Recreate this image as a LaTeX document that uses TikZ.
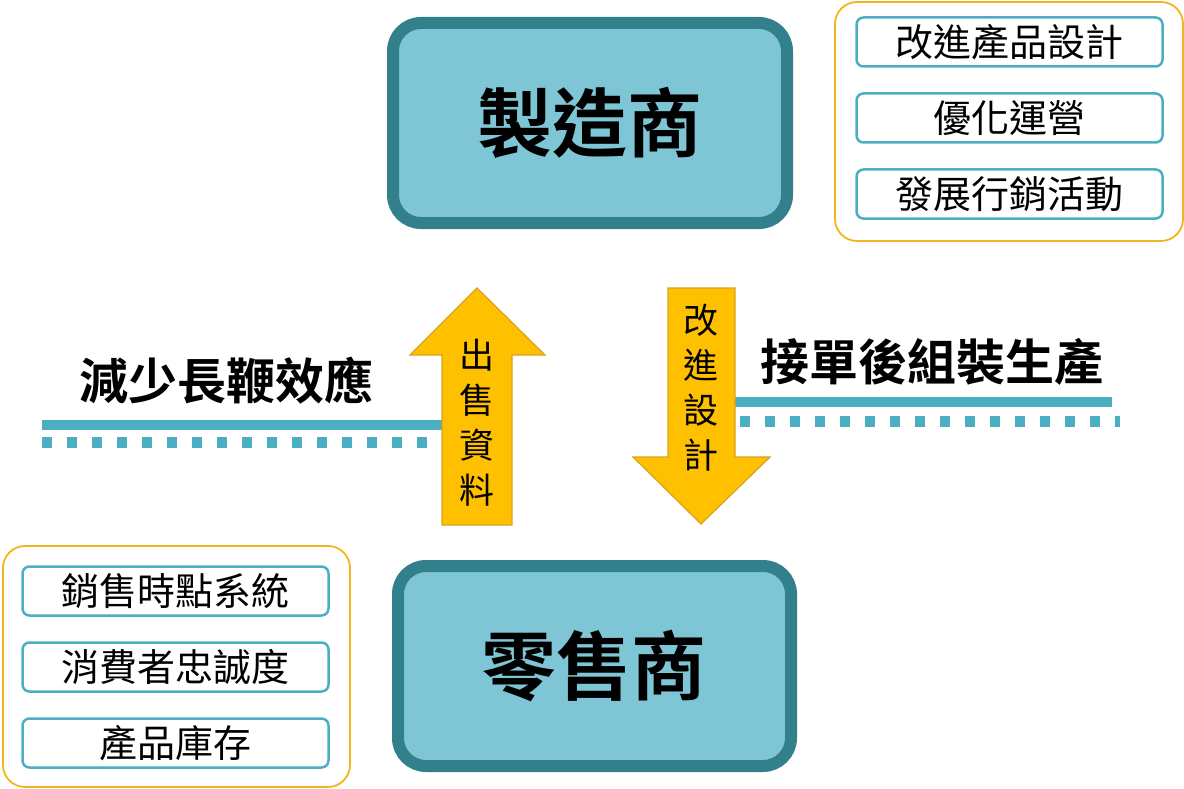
\documentclass[tikz,border=0pt]{standalone}
\usepackage{fontspec}
\setmainfont{Noto Sans CJK TC}[BoldFont={* Bold}]
\begin{document}
\begin{tikzpicture}[x=1pt,y=-1pt,
  big/.style={draw=teald,line width=12pt,fill=tealf,rounded corners=28pt},
  bigtxt/.style={font=\bfseries\fontsize{75}{75}\selectfont},
  yel/.style={draw=yelb,line width=1.8pt,rounded corners=22pt},
  item/.style={draw=tealm,line width=2.5pt,fill=white,rounded corners=7pt,minimum width=306pt,minimum height=49pt,font=\fontsize{38}{38}\selectfont},
  arr/.style={fill=arrf,draw=arrd,line width=1.2pt},
  atxt/.style={font=\fontsize{35}{35}\selectfont},
  lab/.style={font=\bfseries\fontsize{49}{49}\selectfont},
  solid line/.style={draw=tealm,line width=10pt},
  dot line/.style={draw=tealm,line width=11pt,dash pattern=on 10pt off 15pt}]
\definecolor{teald}{HTML}{31808C}
\definecolor{tealf}{HTML}{7EC6D5}
\definecolor{tealm}{HTML}{4BAFC2}
\definecolor{yelb}{HTML}{F2B51C}
\definecolor{arrf}{HTML}{FFC000}
\definecolor{arrd}{HTML}{D9A21B}
\useasboundingbox (0,0) rectangle (1184,789);
% big boxes
\draw[big] (393,23) rectangle (787,223);
\node[bigtxt] (m) at (590,123) {製造商};
\draw[big] (398,566) rectangle (791,766);
\node[bigtxt] (r) at (594,666) {零售商};
% yellow groups
\draw[yel] (835,2) rectangle (1183,241);
\node[item] (a1) at (1009.5,42) {改進產品設計};
\node[item] (a2) at (1009.5,118) {優化運營};
\node[item] (a3) at (1009.5,194) {發展行銷活動};
\draw[yel] (3,546) rectangle (350,787);
\node[item] (b1) at (175.5,591) {銷售時點系統};
\node[item] (b2) at (175.5,667) {消費者忠誠度};
\node[item] (b3) at (175.5,743) {產品庫存};
% lines
\coordinate (l1) at (42,425); \coordinate (l2) at (442,425);
\coordinate (l3) at (42,442); \coordinate (l4) at (442,442);
\draw[solid line] (l1) -- (l2);
\draw[dot line] (l3) -- (l4);
\node[lab] (ll) at (226,381) {減少長鞭效應};
\coordinate (r1) at (735,402); \coordinate (r2) at (1112,402);
\coordinate (r3) at (740,421); \coordinate (r4) at (1120,421);
\draw[solid line] (r1) -- (r2);
\draw[dot line] (r3) -- (r4);
\node[lab] (rl) at (932,362) {接單後組裝生產};
% arrows
\draw[arr] (442,525) -- (442,355) -- (410,355) -- (477,288) -- (545,355) -- (512,355) -- (512,525) -- cycle;
\node[atxt] (u1) at (477,355) {出};
\node[atxt] (u2) at (477,400) {售};
\node[atxt] (u3) at (477,445) {資};
\node[atxt] (u4) at (477,490) {料};
\draw[arr] (668,288) -- (668,457) -- (633,457) -- (701,524) -- (770,457) -- (735,457) -- (735,288) -- cycle;
\node[atxt] (d1) at (701,320) {改};
\node[atxt] (d2) at (701,365) {進};
\node[atxt] (d3) at (701,410) {設};
\node[atxt] (d4) at (701,455) {計};
\end{tikzpicture}
\end{document}
